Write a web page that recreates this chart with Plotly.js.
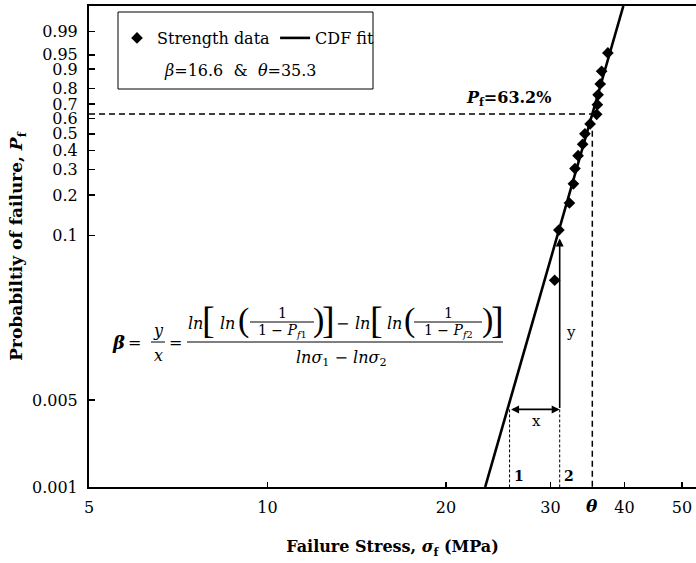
<!DOCTYPE html>
<html>
<head>
<meta charset="utf-8">
<script src="https://cdn.plot.ly/plotly-3.0.1.min.js"></script>
<style>html,body{margin:0;padding:0;background:#fff;}#chart{width:696px;height:563px;}</style>
</head>
<body>
<div id="chart"></div>
<script>
// ---- data ----
const stress = [30.5, 31.0, 32.3, 32.8, 33.0, 33.4, 34.0, 34.3, 35.0, 35.9, 36.0, 36.1, 36.4, 36.6, 37.5];
const probF  = [0.045, 0.110, 0.175, 0.240, 0.305, 0.370, 0.435, 0.500, 0.565, 0.630, 0.695, 0.760, 0.825, 0.890, 0.955];
const beta = 16.6;
const theta = 35.3;
const pChar = 0.632;
const yTickP = [0.001, 0.005, 0.1, 0.2, 0.3, 0.4, 0.5, 0.6, 0.7, 0.8, 0.9, 0.95, 0.99];
const yTickText = ['0.001','0.005','0.1','0.2','0.3','0.4','0.5','0.6','0.7','0.8','0.9','0.95','0.99'];
const xTickVals = [5, 10, 20, 30, 40, 50];
const xTickText = ['5','10','20','30','40','50'];
const sigma1 = 25.6, sigma2 = 31.1;     // construction points 1 and 2
const pArrowLow = 0.0042, pArrowHigh = 0.095;

// Weibull probability-paper transform for the y axis
const weib = p => Math.log(-Math.log(1 - p));
const yMin = weib(0.001), yMax = 2;

const FONT = 'DejaVu Serif';
const THIN = 'Liberation Serif';
const PL = 89, PR = 696, PT = 6, PB = 487;
const px = (x, y) => ({x: (x - PL) / (PR - PL), y: (PB - y) / (PB - PT)});

const fitY = [yMin, yMax];
const fitX = fitY.map(v => theta * Math.exp(v / beta));

const traces = [
  {x: stress, y: probF.map(weib), type: 'scatter', mode: 'markers', name: 'Strength data',
   marker: {symbol: 'diamond', size: 9, color: '#000'}},
  {x: fitX, y: fitY, type: 'scatter', mode: 'lines', name: 'CDF fit',
   line: {color: '#000', width: 2.6}},
  // 63.2% guides
  {x: [5, theta, theta], y: [weib(pChar), weib(pChar), yMin], type: 'scatter', mode: 'lines',
   showlegend: false, hoverinfo: 'skip', line: {color: '#000', width: 1.5, dash: '6px,4px'}},
  // construction guides
  {x: [sigma1, sigma1], y: [weib(pArrowLow), yMin], type: 'scatter', mode: 'lines',
   showlegend: false, hoverinfo: 'skip', line: {color: '#000', width: 1, dash: '3px,2px'}},
  {x: [sigma2, sigma2], y: [weib(pArrowLow), yMin], type: 'scatter', mode: 'lines',
   showlegend: false, hoverinfo: 'skip', line: {color: '#000', width: 1, dash: '3px,2px'}}
];

function txt(t, xp, yp, size, extra, fam) {
  const p = px(xp, yp);
  return Object.assign({text: t, x: p.x, y: p.y, xref: 'paper', yref: 'paper', showarrow: false,
    xanchor: 'center', yanchor: 'middle', font: {family: fam || FONT, size: size, color: '#000'}}, extra || {});
}
function hbar(x0, x1, yp, w) {
  const a = px(x0, yp), b = px(x1, yp);
  return {type: 'line', xref: 'paper', yref: 'paper', x0: a.x, x1: b.x, y0: a.y, y1: b.y,
          line: {color: '#000', width: w || 1}};
}

const annotations = [
  txt('<b><i>P</i><sub>f</sub>=63.2%</b>', 508, 98, 16),
  txt('<b><i>θ</i></b>', 592, 506, 17),
  txt('<b>1</b>', 519, 476, 14),
  txt('<b>2</b>', 569, 476, 14),
  txt('x', 536, 421, 15),
  txt('y', 571, 332, 15),
  txt('<i>β</i>=16.6  &  <i>θ</i>=35.3', 240, 71, 16),
  // equation
  txt('<b><i>β</i></b>', 118, 342, 18),
  txt('=', 134, 342, 16),
  txt('<i>y</i>', 158, 330, 16),
  txt('<i>x</i>', 158, 355, 16),
  txt('=', 175, 342, 16),
  txt('<i>ln</i>', 195, 323, 16),
  txt('[', 208, 320, 38, null, THIN),
  txt('<i>ln</i>', 227, 323, 16),
  txt('(', 243, 320, 34, null, THIN),
  txt('1', 282, 313, 14),
  txt('1 − <i>P</i><sub><i>f</i>1</sub>', 282, 331, 14),
  txt(')', 318, 320, 34, null, THIN),
  txt(']', 328, 320, 38, null, THIN),
  txt('−', 342, 323, 16),
  txt('<i>ln</i>', 362, 323, 16),
  txt('[', 376, 320, 38, null, THIN),
  txt('<i>ln</i>', 394, 323, 16),
  txt('(', 409, 320, 34, null, THIN),
  txt('1', 448, 313, 14),
  txt('1 − <i>P</i><sub><i>f</i>2</sub>', 448, 331, 14),
  txt(')', 487, 320, 34, null, THIN),
  txt(']', 497, 320, 38, null, THIN),
  txt('<i>lnσ</i><sub>1</sub> − <i>lnσ</i><sub>2</sub>', 341, 358, 16),
  // arrows
  {x: Math.log10(sigma2), y: weib(pArrowHigh), ax: Math.log10(sigma2), ay: weib(pArrowLow),
   xref: 'x', yref: 'y', axref: 'x', ayref: 'y', text: '', showarrow: true,
   arrowhead: 2, arrowsize: 1, arrowwidth: 1.6, arrowcolor: '#000'},
  {x: Math.log10(sigma2), y: weib(pArrowLow), ax: Math.log10(sigma1), ay: weib(pArrowLow),
   xref: 'x', yref: 'y', axref: 'x', ayref: 'y', text: '', showarrow: true, arrowside: 'end+start',
   arrowhead: 2, startarrowhead: 2, arrowsize: 1, startarrowsize: 1, arrowwidth: 1.6, arrowcolor: '#000'}
];

const lb0 = px(118, 12), lb1 = px(373, 89);
const shapes = [
  {type: 'rect', xref: 'paper', yref: 'paper', x0: lb0.x, x1: lb1.x, y0: lb0.y, y1: lb1.y,
   line: {color: '#000', width: 1}, fillcolor: 'rgba(0,0,0,0)'},
  hbar(151, 165, 342, 1),
  hbar(250, 314, 322, 1),
  hbar(414, 482, 322, 1),
  hbar(187, 503, 342, 1)
];

const lg = px(117, 21);
const layout = {
  width: 696, height: 563,
  margin: {l: PL, r: 696 - PR, t: PT, b: 563 - PB},
  paper_bgcolor: '#fff', plot_bgcolor: '#fff',
  font: {family: FONT, color: '#000'},
  showlegend: true,
  legend: {orientation: 'h', x: lg.x, y: lg.y, xanchor: 'left', yanchor: 'top',
           bgcolor: 'rgba(0,0,0,0)', borderwidth: 0, font: {family: FONT, size: 16, color: '#000'},
           itemwidth: 30, tracegroupgap: 0},
  xaxis: {type: 'log', range: [Math.log10(5), Math.log10(52.8)], tickmode: 'array',
          tickvals: xTickVals, ticktext: xTickText, ticks: 'inside', ticklen: 5, tickwidth: 1.5,
          tickcolor: '#000', showline: true, linecolor: '#000', linewidth: 2, mirror: true,
          showgrid: false, zeroline: false, ticklabelstandoff: 5,
          tickfont: {family: FONT, size: 16, color: '#000'},
          title: {text: '<b>Failure Stress, <i>σ</i><sub>f</sub> (MPa)</b>', standoff: 25,
                  font: {family: FONT, size: 16, color: '#000'}}},
  yaxis: {range: [yMin, yMax], tickmode: 'array', tickvals: yTickP.map(weib), ticktext: yTickText,
          ticks: 'inside', ticklen: 6, tickwidth: 1.5, tickcolor: '#000', showline: true,
          linecolor: '#000', linewidth: 2, showgrid: false, zeroline: false, ticklabelstandoff: 6,
          tickfont: {family: FONT, size: 16, color: '#000'},
          title: {text: '<b>Probabiltiy of failure, <i>P</i><sub>f</sub></b>', standoff: 5,
                  font: {family: FONT, size: 17, color: '#000'}}},
  annotations: annotations,
  shapes: shapes
};

Plotly.newPlot('chart', traces, layout, {displayModeBar: false, staticPlot: true});
</script>
</body>
</html>
